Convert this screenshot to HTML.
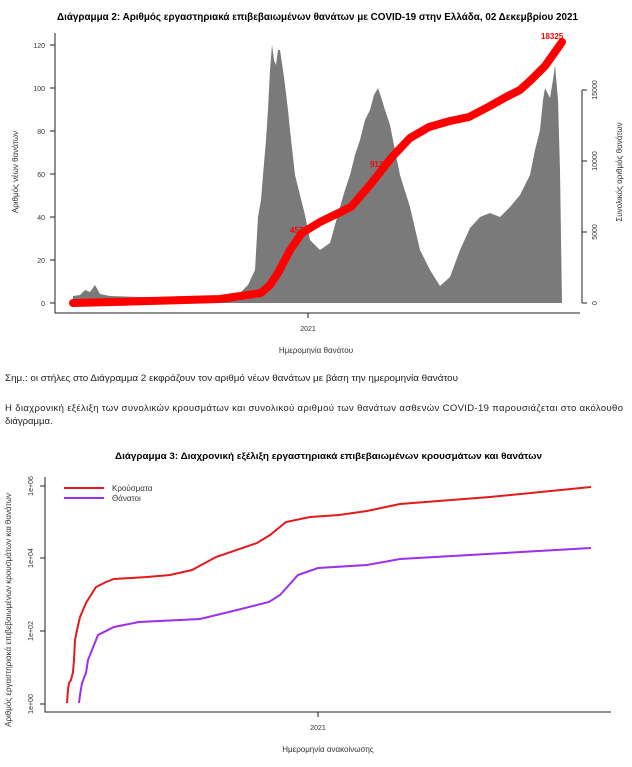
<!DOCTYPE html>
<html><head><meta charset="utf-8"><style>body{margin:0;background:#fff}svg{display:block;font-family:"Liberation Sans",sans-serif}</style></head><body>
<svg width="632" height="767" viewBox="0 0 632 767" xmlns="http://www.w3.org/2000/svg">
<text x="57" y="20" font-size="10" font-weight="bold" textLength="521" lengthAdjust="spacingAndGlyphs">Διάγραμμα 2: Αριθμός εργαστηριακά επιβεβαιωμένων θανάτων με COVID-19 στην Ελλάδα, 02 Δεκεμβρίου 2021</text>
<polygon fill="#7a7a7a" points="73,303 73,296 80,295 85,290 90,292 95,285 100,294 110,296 140,297 200,297 230,296 240,293 248,285 255,270 258,217 261,200 263,175 266,140 268,110 270,70 272,45 274,60 276,65 278,50 280,50 283,70 285,85 288,110 290,130 295,175 300,195 305,215 310,240 320,250 330,243 340,207 345,190 350,175 355,155 360,140 365,120 370,110 374,95 378,88 382,100 385,110 390,125 395,150 400,175 410,207 420,250 430,270 440,286 450,277 460,250 470,228 480,217 490,213 500,217 510,207 520,195 530,175 535,150 540,130 543,100 545,88 550,98 553,80 555,65 558,100 560,170 562,303"/>
<g fill="none" stroke="#222" stroke-width="1">
<path d="M55,33V313H580"/><path d="M50,303h5M50,260h5M50,217h5M50,174h5M50,131h5M50,88h5M50,45h5"/>
<path d="M308,313v5"/><path d="M582,90V303M582,90h5M582,161h5M582,232h5M582,303h5"/>
</g>
<g font-size="7" fill="#333" text-anchor="end"><text x="45" y="306">0</text><text x="45" y="263">20</text><text x="45" y="220">40</text><text x="45" y="177">60</text><text x="45" y="134">80</text><text x="45" y="91">100</text><text x="45" y="48">120</text></g>
<g font-size="7" fill="#333" text-anchor="middle"><text transform="translate(597,303) rotate(-90)">0</text><text transform="translate(597,232) rotate(-90)">5000</text><text transform="translate(597,161) rotate(-90)">10000</text><text transform="translate(597,90) rotate(-90)">15000</text>
<text transform="translate(18,172) rotate(-90)" font-size="8">Αριθμός νέων θανάτων</text>
<text transform="translate(622,172) rotate(-90)" font-size="8">Συνολικός αριθμός θανάτων</text>
<text x="308" y="331">2021</text><text x="316" y="353" font-size="8">Ημερομηνία θανάτου</text></g>
<polyline fill="none" stroke="#f00" stroke-width="8" stroke-linecap="round" stroke-linejoin="round" points="73,303 150,301 220,299 261,293 270,285 278,273 290,250 302,233 320,222 351,207 370,185 392,157 410,138 429,127 450,121 469,117 490,106 506,97 520,90 531,80 545,66 555,52 562,42"/>
<g fill="#f00" font-size="8" font-weight="bold"><text x="541" y="39">18325</text><text x="290" y="233">4570</text><text x="370" y="167">9131</text></g>
<text x="5" y="381" font-size="9" fill="#222" textLength="453" lengthAdjust="spacingAndGlyphs">Σημ.: οι στήλες στο Διάγραμμα 2 εκφράζουν τον αριθμό νέων θανάτων με βάση την ημερομηνία θανάτου</text>
<text x="5" y="411" font-size="9.5" fill="#222" textLength="618" lengthAdjust="spacing">Η διαχρονική εξέλιξη των συνολικών κρουσμάτων και συνολικού αριθμού των θανάτων ασθενών COVID-19 παρουσιάζεται στο ακόλουθο</text>
<text x="5" y="424" font-size="9.5" fill="#222">διάγραμμα.</text>
<text x="115" y="459" font-size="9.5" font-weight="bold" textLength="427" lengthAdjust="spacingAndGlyphs">Διάγραμμα 3: Διαχρονική εξέλιξη εργαστηριακά επιβεβαιωμένων κρουσμάτων και θανάτων</text>
<g fill="none" stroke="#222"><path d="M45,477V712H611"/><path d="M40,486h5M40,558h5M40,631h5M40,704h5M318,712v5"/></g>
<g font-size="7" fill="#333" text-anchor="middle"><text transform="translate(33,486) rotate(-90)">1e+06</text><text transform="translate(33,558) rotate(-90)">1e+04</text><text transform="translate(33,631) rotate(-90)">1e+02</text><text transform="translate(33,704) rotate(-90)">1e+00</text>
<text transform="translate(11,610) rotate(-90)" font-size="8">Αριθμός εργαστηριακά επιβεβαιωμένων κρουσμάτων και θανάτων</text>
<text x="318" y="730">2021</text><text x="328" y="752" font-size="8">Ημερομηνία ανακοίνωσης</text></g>
<polyline fill="none" stroke="#e31a1c" stroke-width="2" points="67,703 68,690 69,683 71,680 73,672 74,660 75,640 77,630 80,617 86,603 96,587 106,582 114,579 147,577 170,575 192,570 216,557 257,543 270,535 286,522 310,517 339,515 367,511 400,504 490,497 591,487"/>
<polyline fill="none" stroke="#9b30e8" stroke-width="2" points="79,703 80,695 82,683 86,673 88,660 98,635 114,627 139,622 200,619 229,612 269,602 280,595 298,575 318,568 367,565 400,559 591,548"/>
<path d="M64,488h40" stroke="#e31a1c" stroke-width="2"/><path d="M64,498h40" stroke="#9b30e8" stroke-width="2"/>
<g font-size="8" fill="#333"><text x="112" y="491">Κρούσματα</text><text x="112" y="501">Θάνατοι</text></g>
</svg>
</body></html>
